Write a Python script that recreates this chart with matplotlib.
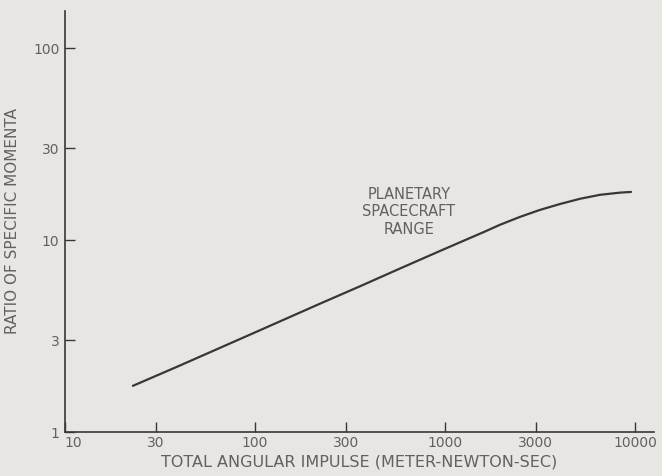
import matplotlib
matplotlib.use("Agg")
import matplotlib.pyplot as plt
from matplotlib.ticker import FixedLocator, NullLocator
from matplotlib.transforms import ScaledTranslation

# data (log-log)
impulse = [22.8, 40.3, 100, 220, 357, 579, 942, 1200, 1600, 1946, 2483, 3162, 4028, 5140, 6546, 8337, 9530]
ratio = [1.74, 2.22, 3.30, 4.66, 5.74, 7.10, 8.77, 9.73, 11.0, 12.0, 13.2, 14.35, 15.4, 16.4, 17.2, 17.65, 17.8]

x_ticks = [10, 30, 100, 300, 1000, 3000, 10000]
x_tick_labels = ["10", "30", "100", "300", "1000", "3000", "10000"]
y_ticks = [1, 3, 10, 30, 100]
y_tick_labels = ["1", "3", "10", "30", "100"]

bg = "#e7e6e3"
ink = "#3b3636"
txt = "#626060"

fig = plt.figure(figsize=(6.62, 4.76), dpi=100, facecolor=bg)
ax = fig.add_axes([0.098, 0.0924, 0.89, 0.8846], facecolor=bg)
ax.set_xscale("log")
ax.set_yscale("log")
ax.set_xlim(10, 12600)
ax.set_ylim(1, 156)

ax.plot(impulse, ratio, color=ink, lw=1.6, solid_capstyle="round", solid_joinstyle="round")

ax.xaxis.set_major_locator(FixedLocator(x_ticks))
ax.xaxis.set_minor_locator(NullLocator())
ax.set_xticklabels(x_tick_labels)
ax.yaxis.set_major_locator(FixedLocator(y_ticks))
ax.yaxis.set_minor_locator(NullLocator())
ax.set_yticklabels(y_tick_labels)

for s in ["top", "right"]:
    ax.spines[s].set_visible(False)
for s in ["left", "bottom"]:
    ax.spines[s].set_color(ink)
    ax.spines[s].set_linewidth(1.2)

ax.tick_params(axis="both", direction="in", length=7, width=1.0, color=ink,
               labelcolor=txt, labelsize=10)
ax.tick_params(axis="x", pad=3)
ax.tick_params(axis="y", pad=4)

# nudge the first x label right so it clears the "1" of the y axis
first = ax.get_xticklabels()[0]
first.set_transform(first.get_transform() + ScaledTranslation(8 / 100, 0, fig.dpi_scale_trans))

ax.set_xlabel("TOTAL ANGULAR IMPULSE (METER-NEWTON-SEC)", fontsize=11.5, color=txt, labelpad=3)
ax.set_ylabel("RATIO OF SPECIFIC MOMENTA", fontsize=11, color=txt, labelpad=9)

ax.text(646, 14.0, "PLANETARY\nSPACECRAFT\nRANGE", ha="center", va="center",
        fontsize=10.5, color=txt, linespacing=1.2)

fig.savefig("out.png", dpi=100, facecolor=bg)
